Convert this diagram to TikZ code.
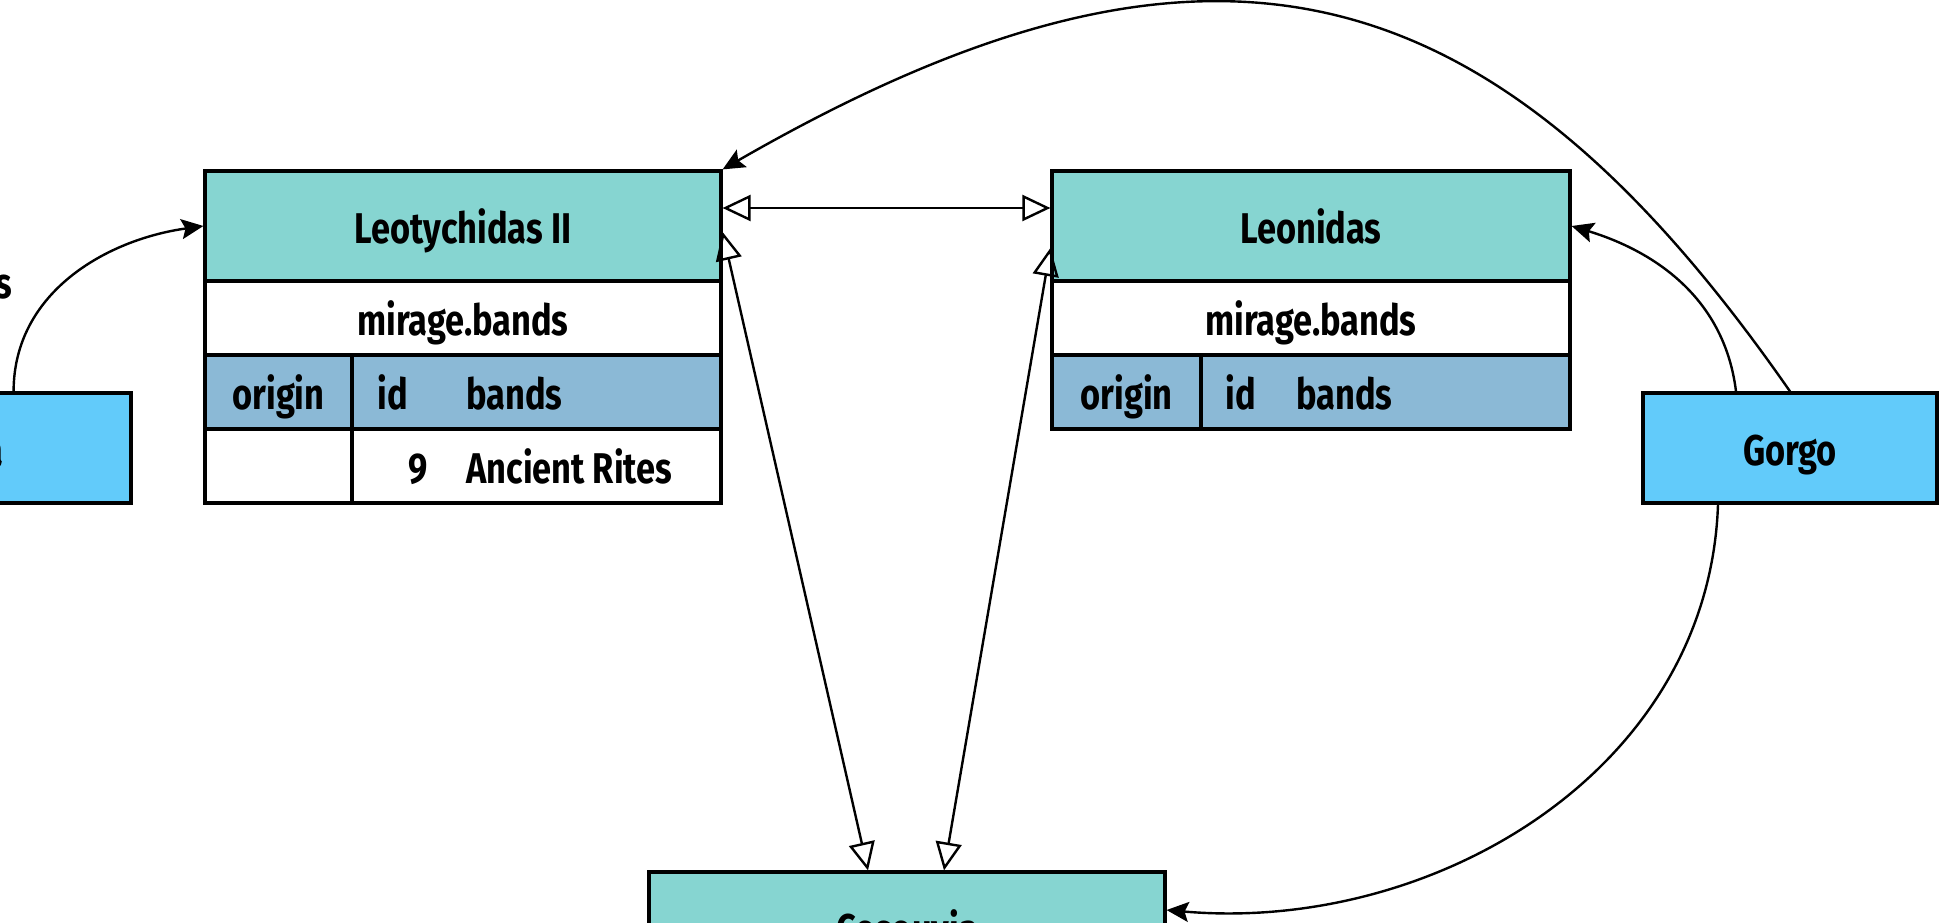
\documentclass[tikz,border=0pt]{standalone}
\usepackage{fontspec}
\setmainfont{Fira Sans}[FakeStretch=0.8]
\usetikzlibrary{arrows.meta, positioning, calc}
\definecolor{headteal}{RGB}{134,213,209}
\definecolor{colblue}{RGB}{139,185,214}
\definecolor{personblue}{RGB}{98,203,250}

\begin{document}
\begin{tikzpicture}[x=0.5pt, y=0.5pt,
        txt/.style={font=\fontsize{21.5}{25}\selectfont\bfseries, text height=20pt, text depth=3pt},
        box/.style={rectangle, draw=black, line width=1.6pt, inner sep=0pt, txt},
        tablehead/.style={box, fill=headteal, minimum width=258pt, minimum height=55pt},
        tablename/.style={box, fill=white, minimum width=258pt, minimum height=37pt},
        colcell/.style={box, fill=colblue, minimum height=37pt},
        datacell/.style={box, fill=white, minimum height=37pt},
        person/.style={box, fill=personblue, minimum width=147pt, minimum height=55pt},
        celltext/.style={txt, inner sep=0pt},
        link/.style={line width=1.2pt, -{Stealth[length=11pt, width=10pt, inset=2pt]}},
        bothopen/.style={line width=1.2pt, {Triangle[open, length=14pt, width=13pt]}-{Triangle[open, length=14pt, width=13pt]}}
    ]
        \useasboundingbox (0,0) rectangle (1939,-922);
        \clip (0,0) rectangle (1939,-922);

        % Leotychidas II
        \node[tablehead] (leo2) at (463,-226) {Leotychidas II};
        \node[tablename] (leo2name) at (463,-318) {mirage.bands};
        \node[colcell, minimum width=73.5pt] (leo2orig) at (278.5,-392) {origin};
        \node[colcell, minimum width=184.5pt] (leo2cols) at (536.5,-392) {};
        \node[datacell, minimum width=73.5pt] (leo2origval) at (278.5,-466) {};
        \node[datacell, minimum width=184.5pt] (leo2vals) at (536.5,-466) {};
        \node[celltext, anchor=west] (leo2id) at (377,-392) {id};
        \node[celltext, anchor=west] (leo2bands) at (466,-392) {bands};
        \node[celltext, anchor=east] (leo2idval) at (428,-466) {9};
        \node[celltext, anchor=west] (leo2bandval) at (466,-466) {Ancient Rites};

        % Leonidas
        \node[tablehead, minimum width=259pt] (leon) at (1311,-226) {Leonidas};
        \node[tablename, minimum width=259pt] (leonname) at (1311,-318) {mirage.bands};
        \node[colcell, minimum width=74.5pt] (leonorig) at (1126.5,-392) {origin};
        \node[colcell, minimum width=184.5pt] (leoncols) at (1385.5,-392) {};
        \node[celltext, anchor=west] (leonid) at (1225,-392) {id};
        \node[celltext, anchor=west] (leonbands) at (1296,-392) {bands};

        % people
        \node[person] (gorgo) at (1790,-448) {Gorgo};
        \node[person, minimum width=186pt] (cyn) at (-55,-448) {Cynisca};
        \node[tablehead] (cos) at (907,-927) {Cosouvia};

        \node[celltext, anchor=east] (kinlabel) at (13,-281) {relatives};

        \draw[link] ([xshift=-59.5pt]cyn.north east) to[out=90, in=188] (leo2.west);
        \draw[bothopen] ([yshift=9pt]leo2.east) -- ([yshift=9pt]leon.west);
        \draw[bothopen] ([yshift=-3pt]leo2.east) -- ([xshift=-19.5pt]cos.north);
        \draw[bothopen] ([yshift=-11pt]leon.west) -- ([xshift=18.5pt]cos.north);
        \draw[link] ([xshift=-27pt]gorgo.north) to[out=97, in=-17] (leon.east);
        \draw[link] (gorgo.north) .. controls (1490,40) and (1206,109) .. (leo2.north east);
        \draw[link] ([xshift=-36pt]gorgo.south) to[out=-92, in=-5] ([yshift=8.5pt]cos.east);
    \end{tikzpicture}
\end{document}
